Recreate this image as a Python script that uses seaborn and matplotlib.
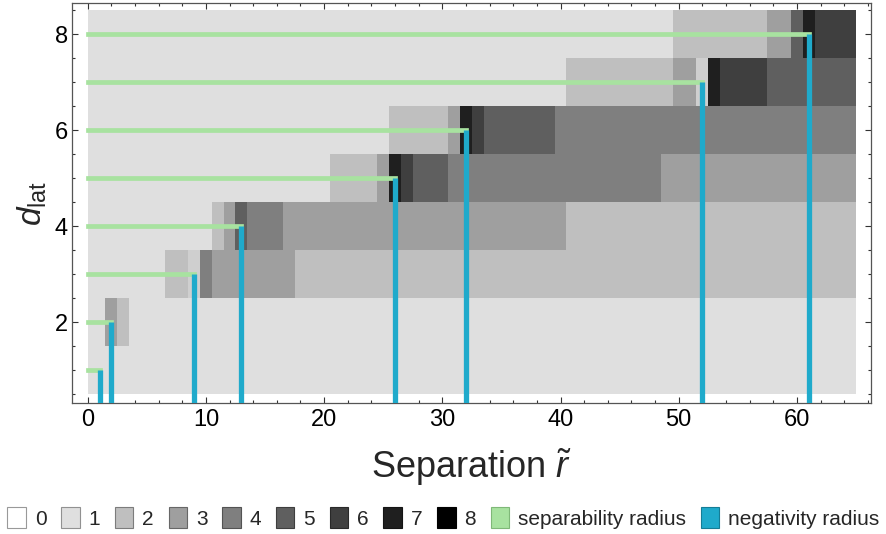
import numpy as np
import pandas as pd
import matplotlib
matplotlib.use("Agg")
import matplotlib.pyplot as plt
import seaborn as sns
from matplotlib.colors import LinearSegmentedColormap
from matplotlib.patches import Patch
from matplotlib.ticker import MultipleLocator

sns.set_theme(style="ticks")
plt.rcParams['font.family'] = ['Liberation Sans', 'DejaVu Sans']
plt.rcParams['mathtext.fontset'] = 'custom'
plt.rcParams['mathtext.rm'] = 'Liberation Sans'
plt.rcParams['mathtext.it'] = 'Liberation Sans:italic'
plt.rcParams['mathtext.bf'] = 'Liberation Sans:bold'

# ---------------- data ----------------
d_lat = [1, 2, 3, 4, 5, 6, 7, 8]

# per-row piecewise-constant levels: segment edges (in r~) and level in each segment
edges_d1 = [0, 65]
levels_d1 = [1]
edges_d2 = [0, 1.5, 2.5, 3.5, 65]
levels_d2 = [1, 3, 2, 1]
edges_d3 = [0, 6.5, 8.5, 9.5, 10.5, 17.5, 65]
levels_d3 = [1, 2, 1.5, 4, 3, 2]
edges_d4 = [0, 10.5, 11.5, 12.5, 13.5, 16.5, 40.5, 65]
levels_d4 = [1, 2, 3, 5, 4, 3, 2]
edges_d5 = [0, 20.5, 24.5, 25.5, 26.5, 27.5, 30.5, 48.5, 65]
levels_d5 = [1, 2, 3, 7, 6, 5, 4, 3]
edges_d6 = [0, 25.5, 30.5, 31.5, 32.5, 33.5, 39.5, 65]
levels_d6 = [1, 2, 3, 7, 6, 5, 4]
edges_d7 = [0, 40.5, 49.5, 51.5, 52.5, 53.5, 57.5, 65]
levels_d7 = [1, 2, 3, 1.5, 7, 6, 5]
edges_d8 = [0, 49.5, 57.5, 59.5, 60.5, 61.5, 65]
levels_d8 = [1, 2, 3, 5, 7, 6]

separability_radius = [1, 2, 9, 13, 26, 32, 52, 61]
negativity_radius = [1, 2, 9, 13, 26, 32, 52, 61]

legend_levels = [0, 1, 2, 3, 4, 5, 6, 7, 8]

# ---------------- build cell table ----------------
rows = [(edges_d1, levels_d1), (edges_d2, levels_d2), (edges_d3, levels_d3),
        (edges_d4, levels_d4), (edges_d5, levels_d5), (edges_d6, levels_d6),
        (edges_d7, levels_d7), (edges_d8, levels_d8)]

x_edges = np.array(sorted(set(e for ed, _ in rows for e in ed)), dtype=float)
y_edges = np.arange(len(d_lat) + 1) + 0.5
cells = []
for d, (ed, lv) in zip(d_lat, rows):
    for a, b in zip(x_edges[:-1], x_edges[1:]):
        c = 0.5 * (a + b)
        k = np.searchsorted(ed, c) - 1
        cells.append((c, d, lv[k]))
df = pd.DataFrame(cells, columns=["r", "d", "level"])

gray = LinearSegmentedColormap.from_list("lvl", ["white", "black"])
green = "#a8e2a0"
blue = "#1faacb"

# ---------------- figure ----------------
fig = plt.figure(figsize=(8.87, 5.34), dpi=100)
ax = fig.add_axes([0.0812, 0.2448, 0.9004, 0.7496])

sns.histplot(data=df, x="r", y="d", weights="level", bins=(x_edges, y_edges),
             cmap=gray, vmin=0, vmax=8, thresh=None, cbar=False, ax=ax,
             edgecolor="face", linewidth=0, zorder=1)

ax.hlines(d_lat, 0, separability_radius, color=green, lw=3.4, zorder=3,
          capstyle="projecting")
ax.vlines(negativity_radius, 0, d_lat, color=blue, lw=3.8, zorder=4)

ax.set_xlim(-1.33, 66.24)
ax.set_ylim(0.31, 8.65)
ax.xaxis.set_major_locator(MultipleLocator(10))
ax.xaxis.set_minor_locator(MultipleLocator(2))
ax.yaxis.set_major_locator(MultipleLocator(2))
ax.yaxis.set_minor_locator(MultipleLocator(0.5))
ax.tick_params(which="both", direction="in", top=True, right=True,
               color="#333333", width=0.8, labelsize=17, labelcolor="black")
ax.tick_params(which="major", length=4.5, pad=4)
ax.tick_params(axis="y", which="major", pad=3)
ax.tick_params(which="minor", length=2.5)
for s in ax.spines.values():
    s.set_color("#555555")
    s.set_linewidth(0.9)
ax.grid(False)

ax.set_xlabel(r"Separation $\tilde{r}$", fontsize=26, labelpad=11)
ax.set_ylabel(r"$d_{\mathrm{lat}}$", fontsize=24, labelpad=4)

handles = []
for k in legend_levels:
    fc = gray(k / 8)
    ec = tuple(0.65 * np.array(fc[:3])) if k > 0 else (0.6, 0.6, 0.6)
    handles.append(Patch(facecolor=fc, edgecolor=ec, lw=0.8, label=str(k)))
handles.append(Patch(facecolor=green, edgecolor="#7fb878", lw=0.8,
                     label="separability radius"))
handles.append(Patch(facecolor=blue, edgecolor="#157d96", lw=0.8,
                     label="negativity radius"))
fig.legend(handles=handles, loc="center", bbox_to_anchor=(0.5, 0.03),
           ncol=len(handles), frameon=False, fontsize=15,
           handlelength=0.89, handleheight=1.15, handletextpad=0.43,
           columnspacing=0.7, borderaxespad=0, borderpad=0)

fig.savefig("out.png", dpi=100)
